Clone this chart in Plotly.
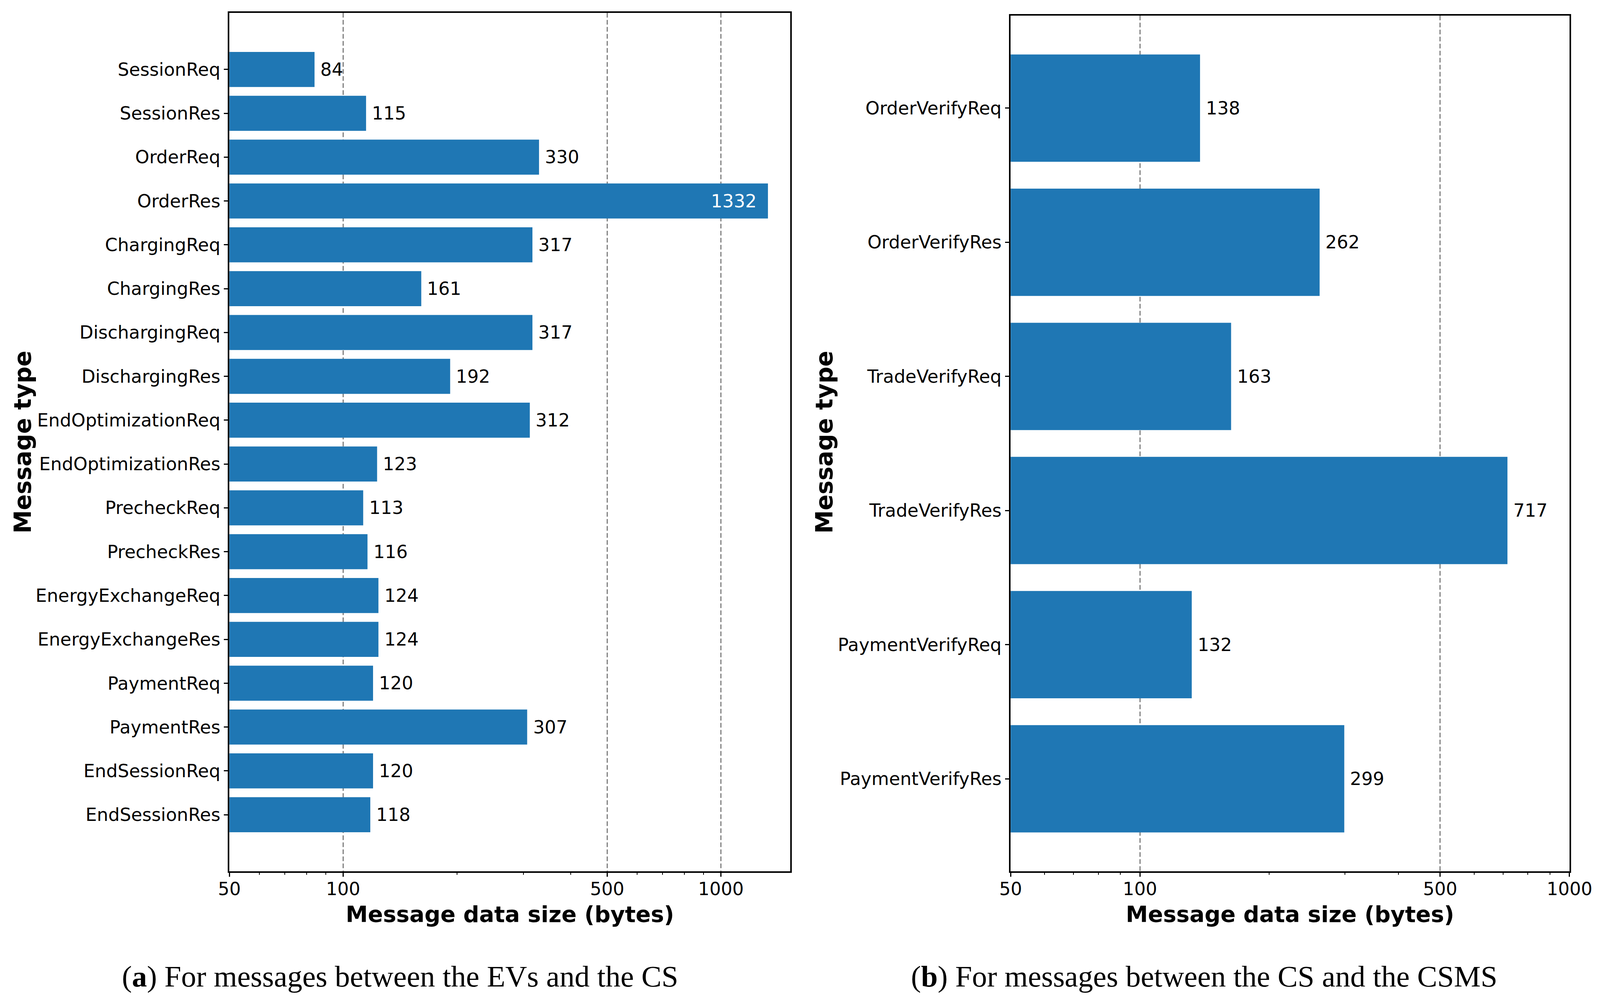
import numpy as np
import plotly.graph_objects as go

left_labels = ["SessionReq", "SessionRes", "OrderReq", "OrderRes", "ChargingReq", "ChargingRes",
               "DischargingReq", "DischargingRes", "EndOptimizationReq", "EndOptimizationRes",
               "PrecheckReq", "PrecheckRes", "EnergyExchangeReq", "EnergyExchangeRes",
               "PaymentReq", "PaymentRes", "EndSessionReq", "EndSessionRes"]
left_values = [84, 115, 330, 1332, 317, 161, 317, 192, 312, 123, 113, 116, 124, 124, 120, 307, 120, 118]

right_labels = ["OrderVerifyReq", "OrderVerifyRes", "TradeVerifyReq", "TradeVerifyRes",
                "PaymentVerifyReq", "PaymentVerifyRes"]
right_values = [138, 262, 163, 717, 132, 299]

x_tickvals = [50, 100, 500, 1000]
x_ticktext = ["50", "100", "500", "1000"]
x_minor = [60, 70, 80, 90, 200, 300, 400, 600, 700, 800, 900]

caption_a = "(<b>a</b>) For messages between the EVs and the CS"
caption_b = "(<b>b</b>) For messages between the CS and the CSMS"
x_title = "<b>Message data size (bytes)</b>"
y_title = "<b>Message type</b>"

BAR = "#1f77b4"
FONT = "DejaVu Sans"
TICK_SIZE = 46

# page geometry: reference 4303 wide, browser viewport 4096 wide with 8px body margin
REF_W = 4303
VIEW_W = 4096
K = VIEW_W / REF_W
OFF = 8
W, H = VIEW_W - 2 * OFF, 2558 - 2 * OFF


def px(xr):
    return (xr * K - OFF) / W


def py(yr):
    return 1 - (yr - OFF) / H


fig = go.Figure()
fig.add_trace(go.Bar(x=left_values, y=left_labels, orientation="h", marker_color=BAR,
                     marker_line_width=0, xaxis="x", yaxis="y", showlegend=False))
fig.add_trace(go.Bar(x=right_values, y=right_labels, orientation="h", marker_color=BAR,
                     marker_line_width=0, xaxis="x2", yaxis="y2", showlegend=False))


def xaxis(domain, rng, anchor):
    return dict(domain=domain, type="log", range=rng, anchor=anchor, automargin=False,
                tickmode="array", tickvals=x_tickvals, ticktext=x_ticktext,
                ticks="outside", ticklen=10, tickwidth=3, tickcolor="black",
                showline=True, linecolor="black", linewidth=4, mirror=True,
                showgrid=True, gridcolor="#808080", gridwidth=3, griddash="12px,6px",
                minor=dict(tickmode="array", tickvals=x_minor, ticks="outside", ticklen=5,
                           tickwidth=2, tickcolor="black", showgrid=False),
                tickfont=dict(family=FONT, size=TICK_SIZE, color="black"),
                zeroline=False, fixedrange=True)


def yaxis(domain, rng, anchor, cats):
    return dict(domain=domain, type="category", categoryorder="array", categoryarray=cats,
                range=rng, anchor=anchor, automargin=False,
                ticks="outside", ticklen=10, tickwidth=3, tickcolor="black",
                ticklabelstandoff=0,
                showline=True, linecolor="black", linewidth=4, mirror=True,
                showgrid=False, zeroline=False,
                tickfont=dict(family=FONT, size=TICK_SIZE, color="black"))


nl = len(left_labels)
nr = len(right_labels)
fig.update_layout(
    template="none",
    width=W, height=H,
    margin=dict(l=0, r=0, t=0, b=0, pad=0, autoexpand=False),
    paper_bgcolor="white", plot_bgcolor="white",
    bargap=0.2, showlegend=False,
    xaxis=xaxis([px(617), px(2125)], [np.log10(50), np.log10(1525)], "y"),
    yaxis=yaxis([py(2231), py(33)], [nl - 1 + 1.29, -1.29], "x", left_labels),
    xaxis2=xaxis([px(2718), px(4221)], [np.log10(50), 3], "y2"),
    yaxis2=yaxis([py(2231), py(40)], [nr - 1 + 0.69, -0.69], "x2", right_labels),
)
for ax in ("xaxis", "xaxis2"):
    try:
        fig.layout[ax].ticklabelstandoff = -8
    except ValueError:
        fig.layout[ax].ticklabelstandoff = 0

annotations = []
for lab, v in zip(left_labels, left_values):
    inside = v > 1000
    annotations.append(dict(x=np.log10(v), y=lab, xref="x", yref="y", text=str(v),
                            showarrow=False, xanchor="right" if inside else "left",
                            xshift=-27 if inside else 13,
                            font=dict(family=FONT, size=TICK_SIZE,
                                      color="white" if inside else "black")))
for lab, v in zip(right_labels, right_values):
    annotations.append(dict(x=np.log10(v), y=lab, xref="x2", yref="y2", text=str(v),
                            showarrow=False, xanchor="left", xshift=13,
                            font=dict(family=FONT, size=TICK_SIZE, color="black")))

# axis titles
for cx in [(617 + 2125) / 2, (2718 + 4221) / 2]:
    annotations.append(dict(x=px(cx), y=py(2341), xref="paper", yref="paper", text=x_title,
                            showarrow=False, xanchor="center", yanchor="middle",
                            font=dict(family=FONT, size=57, color="black")))
for cx in [61, 2217]:
    annotations.append(dict(x=px(cx), y=py(1132), xref="paper", yref="paper", text=y_title,
                            showarrow=False, xanchor="center", yanchor="middle", textangle=-90,
                            font=dict(family=FONT, size=60, color="black")))
# captions
annotations.append(dict(x=px(1076), y=py(2500), xref="paper", yref="paper", text=caption_a,
                        showarrow=False, xanchor="center", yanchor="middle",
                        font=dict(family="Liberation Serif", size=77, color="black")))
annotations.append(dict(x=px(3238), y=py(2500), xref="paper", yref="paper", text=caption_b,
                        showarrow=False, xanchor="center", yanchor="middle",
                        font=dict(family="Liberation Serif", size=77, color="black")))

fig.update_layout(annotations=annotations)
fig.write_html("out.html")
